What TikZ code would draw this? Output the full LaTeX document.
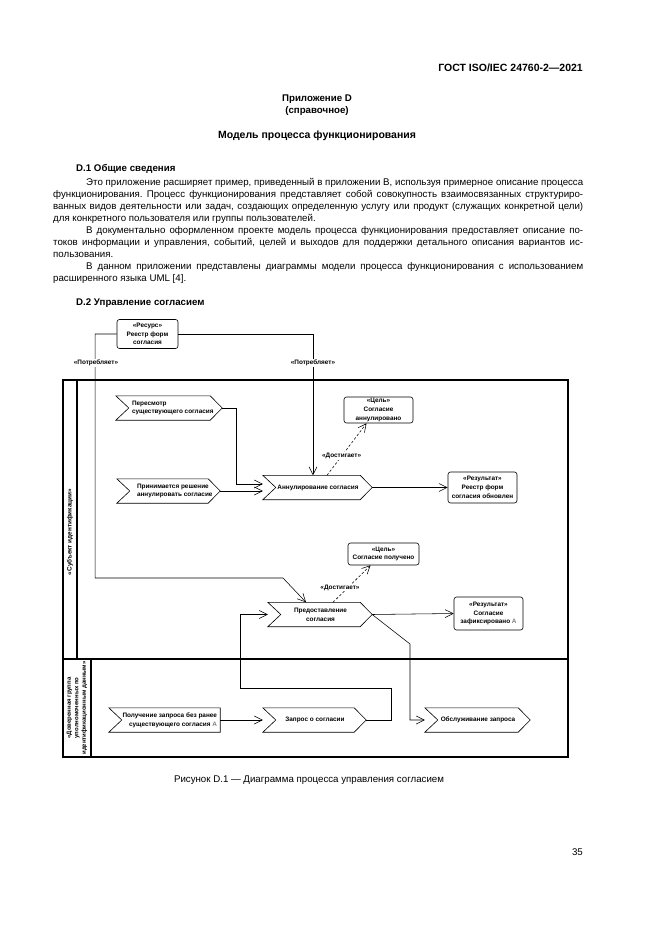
\documentclass[tikz,border=0pt]{standalone}
\usepackage{fontspec}
\setmainfont{Liberation Sans}
\usetikzlibrary{arrows.meta}
\frenchspacing

% process step: rectangle from notch apex to the start of the tip
\newcommand{\procframe}[2][12pt]{%
  \coordinate (#2-tip) at ([xshift=#1]#2.east);
  \coordinate (#2-in) at ([xshift=-13pt]#2.west);
  \draw[outline] ([xshift=-13pt]#2.north west) -- (#2.north east) -- (#2-tip)
    -- (#2.south east) -- ([xshift=-13pt]#2.south west) -- (#2.west) -- cycle;}

\tikzset{
  body/.style={inner sep=0pt, font=\fontsize{9.7}{12}\selectfont},
  head/.style={inner sep=0pt, font=\fontsize{9.7}{12}\selectfont\bfseries},
  small/.style={font=\fontsize{6.4}{8.7}\selectfont\bfseries},
  proc/.style={small, minimum height=24pt, inner sep=0pt, align=center},
  ptext/.style={small, inner sep=0pt, align=left},
  item/.style={small, draw, rounded corners=2.5pt, line width=0.6pt, inner sep=0pt, align=center},
  rel/.style={small, fill=white, inner sep=1pt},
  outline/.style={line width=0.6pt},
  flow/.style={line width=0.55pt, -{Straight Barb[length=8pt,width=8pt]}},
  goal/.style={flow, dash pattern=on 2.5pt off 2pt},
  lane/.style={line width=1.6pt},
}

\begin{document}
\begin{tikzpicture}[x=1pt,y=-1pt]
\useasboundingbox[fill=white] (0,0) rectangle (661,935);

% page text
\node[inner sep=0pt, anchor=base east, font=\fontsize{10.5}{12}\selectfont\bfseries] (gost) at (583,71) {ГОСТ ISO/IEC 24760-2—2021};
\node[head, anchor=base] (app) at (317,101) {Приложение D};
\node[head, anchor=base] (ref) at (317,113) {(справочное)};
\node[inner sep=0pt, anchor=base, font=\fontsize{10.5}{12}\selectfont\bfseries] (title) at (317,138) {Модель процесса функционирования};
\node[head, anchor=base west] (sec1) at (76,171) {D.1 Общие сведения};
\node[body, anchor=base west] (l1) at (86,185.5) {\makebox[497pt][s]{Это приложение расширяет пример, приведенный в приложении В, используя примерное описание процесса}};
\node[body, anchor=base west] (l2) at (53,197.5) {\makebox[530pt][s]{функционирования. Процесс функционирования представляет собой совокупность взаимосвязанных структуриро-}};
\node[body, anchor=base west] (l3) at (53,209.5) {\makebox[530pt][s]{ванных видов деятельности или задач, создающих определенную услугу или продукт (служащих конкретной цели)}};
\node[body, anchor=base west] (l4) at (53,221.5) {для конкретного пользователя или группы пользователей.};
\node[body, anchor=base west] (l5) at (86,233.5) {\makebox[497pt][s]{В документально оформленном проекте модель процесса функционирования предоставляет описание по-}};
\node[body, anchor=base west] (l6) at (53,245.5) {\makebox[530pt][s]{токов информации и управления, событий, целей и выходов для поддержки детального описания вариантов ис-}};
\node[body, anchor=base west] (l7) at (53,257.5) {пользования.};
\node[body, anchor=base west] (l8) at (86,269.5) {\makebox[497pt][s]{В данном приложении представлены диаграммы модели процесса функционирования с использованием}};
\node[body, anchor=base west] (l9) at (53,281.5) {расширенного языка UML [4].};
\node[head, anchor=base west] (sec2) at (76,305) {D.2 Управление согласием};

% swimlanes
\draw[lane] (63,380) rectangle (568,757);
\draw[lane] (63,659) -- (568,659);
\draw[lane] (77,380) -- (77,659);
\draw[lane] (91,659) -- (91,757);
\node[small, rotate=90] (lane1) at (70,532) {«Субъект идентификации»};
\node[small, rotate=90, align=center, font=\fontsize{6}{7.5}\selectfont\bfseries] (lane2) at (77,708) {«Доверенная группа\\уполномоченных по\\идентификационным данным»};

% resource, goals, results
\node[item, minimum width=61pt, minimum height=29pt] (resurs) at (147.5,334) {«Ресурс»\\Реестр форм\\согласия};
\node[item, minimum width=69pt, minimum height=26pt] (cel1) at (378.5,410) {«Цель»\\Согласие\\аннулировано};
\node[item, minimum width=69pt, minimum height=31pt] (rez1) at (482.5,487.5) {«Результат»\\Реестр форм\\согласия обновлен};
\node[item, minimum width=71pt, minimum height=22pt] (cel2) at (383.5,554) {«Цель»\\Согласие получено};
\node[item, minimum width=69pt, minimum height=33pt] (rez2) at (488.5,613.5) {«Результат»\\Согласие\\зафиксировано {\color{gray}A}};

% process steps
\node[proc, minimum width=81pt] (pere) at (169.5,408) {};
\procframe{pere}
\node[ptext, anchor=west] (pere-t) at ([xshift=3pt]pere.west) {Пересмотр\\существующего согласия};
\node[proc, minimum width=78pt] (prin) at (169,491) {};
\procframe{prin}
\node[ptext, anchor=west] (prin-t) at ([xshift=7pt]prin.west) {Принимается решение\\аннулировать согласие};
\node[proc, minimum width=84pt] (annul) at (318,487.5) {Аннулирование согласия};
\procframe{annul}
\node[proc, minimum width=79pt] (predost) at (320.5,614.5) {Предоставление\\согласия};
\procframe{predost}
\node[proc, minimum width=98pt] (poluch) at (171,720) {};
\procframe[0pt]{poluch}
\node[ptext, align=right, anchor=east] (poluch-t) at ([xshift=-3pt]poluch.east) {Получение запроса без ранее\\существующего согласия {\color{gray}A}};
\node[proc, minimum width=78pt] (zapros) at (315,720) {Запрос о согласии};
\procframe{zapros}
\node[proc, minimum width=80pt] (obsl) at (478,720) {Обслуживание запроса};
\procframe{obsl}

% connectors
\draw[flow] (resurs.west) -- ++(-21.5,0) |- (283,578) -- ([xshift=-14.5pt]predost.north);
\draw[flow] (resurs.east) -| ([xshift=-5pt]annul.north);
\node[rel] (use1) at (96,363) {«Потребляет»};
\node[rel] (use2) at (313,363) {«Потребляет»};
\draw[flow] (pere-tip) -- ++(14,0) |- ([yshift=3.5pt]annul-in);
\draw[flow] (prin-tip) -- ([yshift=-3.5pt]annul-in);
\draw[flow] (annul-tip) -- (rez1.west);
\draw[goal] ([xshift=9pt]annul.north) -- ([xshift=-12pt]cel1.south) node[rel, pos=0.37] (ach1) {«Достигает»};
\draw[goal] ([xshift=12.5pt]predost.north) -- ([xshift=-13pt]cel2.south) node[rel, pos=0.4, xshift=-8pt] (ach2) {«Достигает»};
\draw[flow] (predost-tip) -- (rez2.west);
\draw[flow] (predost-tip) -- (410,644) |- (obsl-in);
\draw[flow] (zapros-tip) -- ++(25,0) |- (240,688) |- (predost-in);
\draw[flow] (poluch.east) -- (zapros-in);

% caption and page number
\node[body, anchor=base] (cap) at (309,782) {Рисунок D.1 — Диаграмма процесса управления согласием};
\node[body, anchor=base east] (page) at (583,855) {35};
\end{tikzpicture}
\end{document}
